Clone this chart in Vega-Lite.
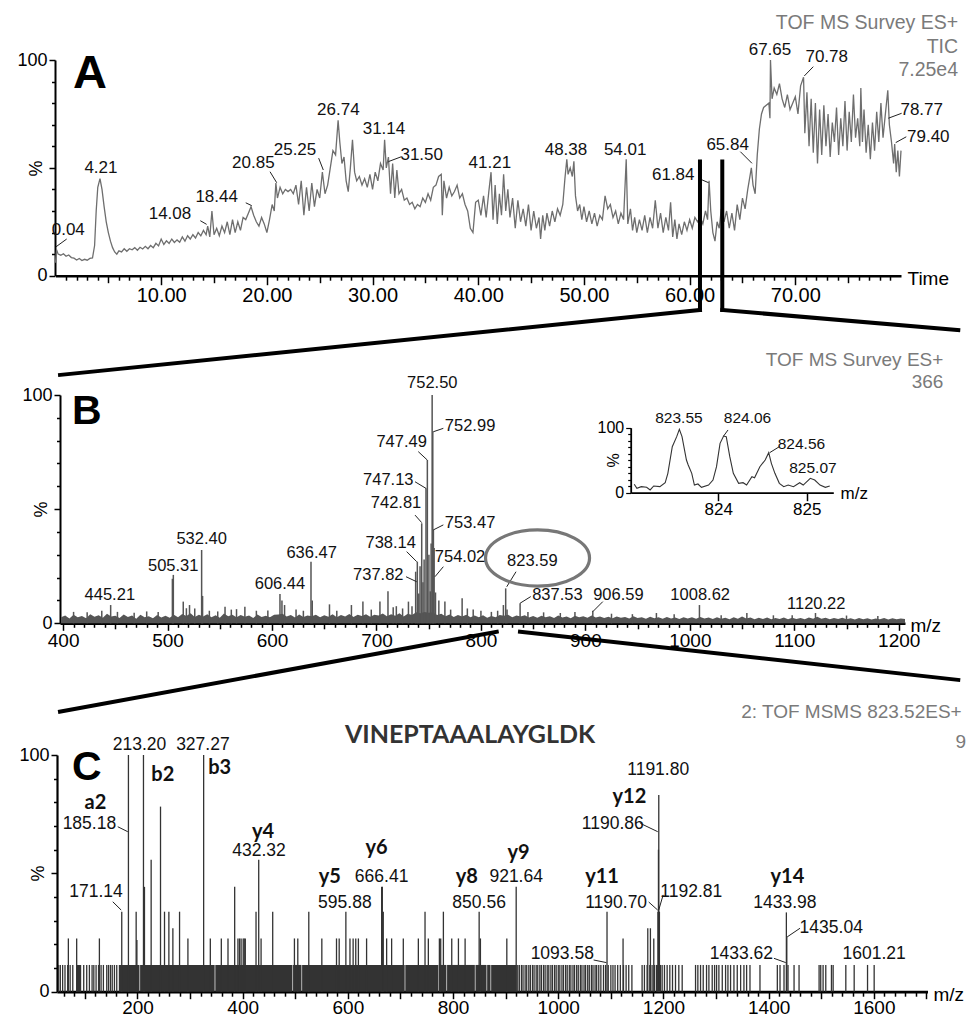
{
"$schema": "https://vega.github.io/schema/vega-lite/v6.json",
"width": 966, "height": 1020, "padding": 0, "autosize": {"type": "none"},
"background": "white",
"config": {"view": {"stroke": null}, "axis": {"grid": false, "domainColor": "#000", "tickColor": "#000", "labelColor": "#000", "titleColor": "#000", "labelFont": "Liberation Sans", "titleFont": "Liberation Sans", "titleFontWeight": "normal", "labelOverlap": false, "labelBound": false, "labelFlush": false}, "text": {"font": "Liberation Sans"}},
"datasets": {
"tic": [{"t":0,"v":6},{"t":0.1,"v":12},{"t":0.25,"v":10},{"t":0.5,"v":9.5},{"t":0.75,"v":10.2},{"t":1,"v":9},{"t":1.25,"v":9.6},{"t":1.5,"v":8.4},{"t":1.75,"v":8.1},{"t":2,"v":7.3},{"t":2.25,"v":8},{"t":2.5,"v":7},{"t":2.75,"v":7.6},{"t":3,"v":7.2},{"t":3.25,"v":8},{"t":3.5,"v":8.2},{"t":3.7,"v":14},{"t":3.85,"v":30},{"t":4,"v":41},{"t":4.21,"v":45},{"t":4.4,"v":40},{"t":4.6,"v":32},{"t":4.8,"v":25},{"t":5,"v":20},{"t":5.2,"v":16},{"t":5.4,"v":13},{"t":5.6,"v":11},{"t":5.8,"v":10},{"t":6,"v":11.5},{"t":6.25,"v":11},{"t":6.5,"v":12.5},{"t":6.75,"v":11.3},{"t":7,"v":12.5},{"t":7.25,"v":12},{"t":7.5,"v":13},{"t":7.75,"v":11.8},{"t":8,"v":13.2},{"t":8.25,"v":12.4},{"t":8.5,"v":13.6},{"t":8.75,"v":12.5},{"t":9,"v":14},{"t":9.25,"v":13},{"t":9.5,"v":15},{"t":9.75,"v":13.8},{"t":10,"v":17},{"t":10.25,"v":14.5},{"t":10.5,"v":16.2},{"t":10.75,"v":15},{"t":11,"v":17},{"t":11.25,"v":15.4},{"t":11.5,"v":16.6},{"t":11.75,"v":15.5},{"t":12,"v":18},{"t":12.25,"v":16},{"t":12.5,"v":18.5},{"t":12.75,"v":17},{"t":13,"v":19},{"t":13.25,"v":17.5},{"t":13.5,"v":20},{"t":13.75,"v":18.5},{"t":14,"v":21},{"t":14.25,"v":19},{"t":14.4,"v":23},{"t":14.6,"v":18},{"t":14.8,"v":30},{"t":15,"v":19},{"t":15.25,"v":22},{"t":15.5,"v":18.5},{"t":15.75,"v":23},{"t":16,"v":20},{"t":16.25,"v":25},{"t":16.5,"v":19},{"t":16.75,"v":26},{"t":17,"v":20},{"t":17.25,"v":25},{"t":17.5,"v":21},{"t":17.75,"v":27},{"t":18,"v":26},{"t":18.25,"v":29},{"t":18.5,"v":32},{"t":18.75,"v":28},{"t":19,"v":25},{"t":19.25,"v":23},{"t":19.5,"v":27},{"t":19.75,"v":24},{"t":20,"v":20},{"t":20.25,"v":26},{"t":20.5,"v":33},{"t":20.7,"v":30},{"t":20.85,"v":43},{"t":21,"v":36},{"t":21.25,"v":41},{"t":21.5,"v":38},{"t":21.75,"v":40},{"t":22,"v":39},{"t":22.25,"v":40},{"t":22.5,"v":38},{"t":22.75,"v":42},{"t":23,"v":33},{"t":23.25,"v":44},{"t":23.5,"v":28},{"t":23.75,"v":41},{"t":24,"v":30},{"t":24.25,"v":43},{"t":24.5,"v":32},{"t":24.75,"v":40},{"t":25,"v":36},{"t":25.25,"v":48},{"t":25.5,"v":38},{"t":25.75,"v":42},{"t":26,"v":50},{"t":26.25,"v":58},{"t":26.5,"v":56},{"t":26.74,"v":72},{"t":26.9,"v":62},{"t":27.1,"v":52},{"t":27.3,"v":55},{"t":27.5,"v":44},{"t":27.7,"v":39},{"t":27.9,"v":50},{"t":28.1,"v":63},{"t":28.3,"v":48},{"t":28.5,"v":44},{"t":28.75,"v":46},{"t":29,"v":42},{"t":29.25,"v":45},{"t":29.5,"v":41},{"t":29.75,"v":47},{"t":30,"v":40},{"t":30.25,"v":48},{"t":30.5,"v":44},{"t":30.75,"v":52},{"t":31,"v":49},{"t":31.14,"v":63},{"t":31.3,"v":50},{"t":31.5,"v":55},{"t":31.7,"v":38},{"t":31.9,"v":52},{"t":32.1,"v":36},{"t":32.3,"v":49},{"t":32.5,"v":38},{"t":32.75,"v":40},{"t":33,"v":35},{"t":33.25,"v":36},{"t":33.5,"v":33},{"t":33.75,"v":34},{"t":34,"v":31},{"t":34.25,"v":33},{"t":34.5,"v":32},{"t":34.75,"v":36},{"t":35,"v":34},{"t":35.25,"v":38},{"t":35.5,"v":35},{"t":35.75,"v":41},{"t":36,"v":42},{"t":36.25,"v":46},{"t":36.5,"v":47},{"t":36.6,"v":28},{"t":36.75,"v":44},{"t":37,"v":36},{"t":37.25,"v":41},{"t":37.5,"v":37},{"t":37.75,"v":39},{"t":38,"v":42},{"t":38.25,"v":36},{"t":38.5,"v":38},{"t":38.75,"v":33},{"t":39,"v":30},{"t":39.25,"v":22},{"t":39.5,"v":20},{"t":39.75,"v":34},{"t":40,"v":35},{"t":40.25,"v":28},{"t":40.5,"v":37},{"t":40.75,"v":27},{"t":41,"v":39},{"t":41.21,"v":48},{"t":41.4,"v":26},{"t":41.6,"v":42},{"t":41.8,"v":24},{"t":42,"v":38},{"t":42.2,"v":28},{"t":42.4,"v":47},{"t":42.6,"v":30},{"t":42.8,"v":40},{"t":43,"v":27},{"t":43.25,"v":36},{"t":43.5,"v":22},{"t":43.75,"v":35},{"t":44,"v":25},{"t":44.25,"v":31},{"t":44.5,"v":23},{"t":44.75,"v":33},{"t":45,"v":21},{"t":45.25,"v":30},{"t":45.5,"v":22},{"t":45.75,"v":27},{"t":45.9,"v":17},{"t":46.1,"v":28},{"t":46.3,"v":21},{"t":46.5,"v":29},{"t":46.75,"v":23},{"t":47,"v":30},{"t":47.25,"v":25},{"t":47.5,"v":31},{"t":47.75,"v":28},{"t":48,"v":33},{"t":48.2,"v":45},{"t":48.38,"v":54},{"t":48.5,"v":47},{"t":48.7,"v":50},{"t":48.9,"v":46},{"t":49.05,"v":53},{"t":49.2,"v":37},{"t":49.4,"v":30},{"t":49.6,"v":33},{"t":49.8,"v":26},{"t":50,"v":32},{"t":50.25,"v":25},{"t":50.5,"v":30},{"t":50.75,"v":24},{"t":51,"v":29},{"t":51.25,"v":23},{"t":51.5,"v":28},{"t":51.75,"v":26},{"t":52,"v":37},{"t":52.25,"v":31},{"t":52.5,"v":33},{"t":52.75,"v":27},{"t":53,"v":30},{"t":53.25,"v":24},{"t":53.5,"v":29},{"t":53.75,"v":26},{"t":54,"v":54},{"t":54.15,"v":24},{"t":54.4,"v":31},{"t":54.6,"v":21},{"t":54.8,"v":27},{"t":55,"v":20},{"t":55.25,"v":26},{"t":55.5,"v":21},{"t":55.75,"v":28},{"t":56,"v":20},{"t":56.25,"v":27},{"t":56.5,"v":22},{"t":56.75,"v":35},{"t":57,"v":22},{"t":57.25,"v":29},{"t":57.5,"v":20},{"t":57.75,"v":27},{"t":58,"v":21},{"t":58.2,"v":34},{"t":58.4,"v":18},{"t":58.6,"v":26},{"t":58.8,"v":17},{"t":59,"v":24},{"t":59.25,"v":19},{"t":59.5,"v":25},{"t":59.75,"v":21},{"t":60,"v":26},{"t":60.25,"v":22},{"t":60.5,"v":27},{"t":60.75,"v":25},{"t":61,"v":27},{"t":61.25,"v":24},{"t":61.5,"v":30},{"t":61.7,"v":26},{"t":61.84,"v":44},{"t":62,"v":30},{"t":62.2,"v":20},{"t":62.4,"v":16},{"t":62.6,"v":25},{"t":62.8,"v":22},{"t":63,"v":31},{"t":63.25,"v":25},{"t":63.5,"v":30},{"t":63.75,"v":22},{"t":64,"v":29},{"t":64.25,"v":21},{"t":64.5,"v":33},{"t":64.75,"v":26},{"t":65,"v":36},{"t":65.25,"v":31},{"t":65.5,"v":40},{"t":65.84,"v":50},{"t":66,"v":42},{"t":66.2,"v":38},{"t":66.4,"v":56},{"t":66.6,"v":68},{"t":66.8,"v":75},{"t":67,"v":78},{"t":67.25,"v":79},{"t":67.5,"v":80},{"t":67.6,"v":73},{"t":67.65,"v":100},{"t":67.8,"v":82},{"t":68,"v":87},{"t":68.25,"v":84},{"t":68.5,"v":89},{"t":68.75,"v":82},{"t":69,"v":78},{"t":69.25,"v":84},{"t":69.5,"v":77},{"t":69.75,"v":80},{"t":70,"v":83},{"t":70.25,"v":75},{"t":70.5,"v":88},{"t":70.78,"v":92},{"t":70.9,"v":66},{"t":71.1,"v":85},{"t":71.3,"v":60},{"t":71.5,"v":82},{"t":71.7,"v":57},{"t":71.9,"v":80},{"t":72.1,"v":52},{"t":72.3,"v":77},{"t":72.5,"v":56},{"t":72.7,"v":79},{"t":72.9,"v":60},{"t":73.1,"v":75},{"t":73.3,"v":55},{"t":73.5,"v":71},{"t":73.7,"v":62},{"t":73.9,"v":78},{"t":74.1,"v":56},{"t":74.3,"v":73},{"t":74.5,"v":60},{"t":74.7,"v":81},{"t":74.9,"v":58},{"t":75.1,"v":76},{"t":75.3,"v":62},{"t":75.5,"v":84},{"t":75.7,"v":64},{"t":75.9,"v":73},{"t":76.1,"v":60},{"t":76.2,"v":87},{"t":76.35,"v":62},{"t":76.5,"v":77},{"t":76.7,"v":57},{"t":76.9,"v":70},{"t":77.1,"v":54},{"t":77.3,"v":71},{"t":77.5,"v":58},{"t":77.7,"v":76},{"t":77.9,"v":62},{"t":78.1,"v":80},{"t":78.3,"v":64},{"t":78.5,"v":74},{"t":78.75,"v":86},{"t":78.9,"v":70},{"t":79.1,"v":62},{"t":79.3,"v":52},{"t":79.4,"v":61},{"t":79.55,"v":48},{"t":79.7,"v":58},{"t":79.85,"v":46},{"t":80,"v":58}],
"ticLab": [{"x":1.21,"y":21.2,"label":"0.04"},{"x":4.3,"y":49.8,"label":"4.21"},{"x":10.83,"y":28.6,"label":"14.08"},{"x":15.25,"y":36.6,"label":"18.44"},{"x":18.72,"y":52.1,"label":"20.85"},{"x":22.66,"y":58.3,"label":"25.25"},{"x":26.76,"y":76.8,"label":"26.74"},{"x":31.08,"y":67.9,"label":"31.14"},{"x":34.65,"y":56,"label":"31.50"},{"x":41.1,"y":52.4,"label":"41.21"},{"x":48.3,"y":58.3,"label":"48.38"},{"x":53.9,"y":58.3,"label":"54.01"},{"x":58.45,"y":46.7,"label":"61.84"},{"x":63.6,"y":60.6,"label":"65.84"},{"x":67.6,"y":104.6,"label":"67.65"},{"x":72.97,"y":101.5,"label":"70.78"},{"x":81.96,"y":76.8,"label":"78.77"},{"x":82.58,"y":64.4,"label":"79.40"}],
"ticLead": [{"x":1.06,"y":17,"x2":0.05,"y2":13.4},{"x":13.7,"y":25.5,"x2":14.3,"y2":23.8},{"x":18.0,"y":33.8,"x2":18.56,"y2":32.5},{"x":20.3,"y":48.2,"x2":20.93,"y2":43.1},{"x":24.9,"y":54.5,"x2":25.34,"y2":49},{"x":32.75,"y":55.2,"x2":31.5,"y2":52.9},{"x":60.8,"y":45.2,"x2":61.8,"y2":43.1},{"x":64.8,"y":57.5,"x2":65.9,"y2":52.1},{"x":71.7,"y":96.9,"x2":70.85,"y2":92.6},{"x":80.06,"y":75.3,"x2":78.8,"y2":73},{"x":80.5,"y":64.4,"x2":79.5,"y2":61.7}],
"zoomA": [{"x":60.98,"y":52.9,"x2":60.98,"y2":-15.9},{"x":63.09,"y":52.9,"x2":63.09,"y2":-15.9},{"x":60.98,"y":-15.9,"x2":0.43,"y2":-46},{"x":63.09,"y":-15.9,"x2":85.42,"y2":-25.2}],
"headA": [{"x":85.4,"y":117.3,"label":"TOF MS Survey ES+"},{"x":85.4,"y":105.9,"label":"TIC"},{"x":85.4,"y":95.4,"label":"7.25e4"}],
"letterA": [{"x":1.66,"y":87,"label":"A"}],
"msBand": [{"m":398,"v":2.6},{"m":402,"v":3.4},{"m":406,"v":2.1},{"m":410,"v":3.8},{"m":414,"v":2.7},{"m":418,"v":3.2},{"m":422,"v":2.2},{"m":426,"v":4.0},{"m":430,"v":2.9},{"m":434,"v":3.5},{"m":438,"v":2.4},{"m":442,"v":4.2},{"m":446,"v":3.0},{"m":450,"v":3.3},{"m":454,"v":2.3},{"m":458,"v":3.9},{"m":462,"v":2.8},{"m":466,"v":3.4},{"m":470,"v":2.0},{"m":474,"v":3.7},{"m":478,"v":2.6},{"m":482,"v":3.1},{"m":486,"v":2.2},{"m":490,"v":3.6},{"m":494,"v":2.5},{"m":498,"v":3.3},{"m":502,"v":2.4},{"m":506,"v":3.8},{"m":510,"v":2.7},{"m":514,"v":4.1},{"m":518,"v":3.2},{"m":522,"v":4.4},{"m":526,"v":2.8},{"m":530,"v":3.7},{"m":534,"v":3.0},{"m":538,"v":4.0},{"m":542,"v":2.6},{"m":546,"v":3.5},{"m":550,"v":2.4},{"m":554,"v":4.3},{"m":558,"v":3.1},{"m":562,"v":3.8},{"m":566,"v":2.7},{"m":570,"v":3.6},{"m":574,"v":2.9},{"m":578,"v":3.4},{"m":582,"v":2.3},{"m":586,"v":3.9},{"m":590,"v":2.8},{"m":594,"v":3.3},{"m":598,"v":2.6},{"m":602,"v":3.7},{"m":606,"v":3.9},{"m":610,"v":4.2},{"m":614,"v":3.0},{"m":618,"v":3.6},{"m":622,"v":2.5},{"m":626,"v":3.9},{"m":630,"v":2.8},{"m":634,"v":3.4},{"m":638,"v":3.1},{"m":642,"v":3.8},{"m":646,"v":2.6},{"m":650,"v":3.5},{"m":654,"v":2.9},{"m":658,"v":4.0},{"m":662,"v":2.7},{"m":666,"v":3.6},{"m":670,"v":3.0},{"m":674,"v":4.1},{"m":678,"v":2.8},{"m":682,"v":3.7},{"m":686,"v":3.2},{"m":690,"v":4.0},{"m":694,"v":2.9},{"m":698,"v":3.8},{"m":702,"v":3.4},{"m":706,"v":4.3},{"m":710,"v":3.1},{"m":714,"v":4.0},{"m":718,"v":3.3},{"m":722,"v":4.4},{"m":726,"v":3.0},{"m":730,"v":4.2},{"m":734,"v":3.6},{"m":738,"v":4.8},{"m":742,"v":4.4},{"m":746,"v":5.0},{"m":750,"v":4.6},{"m":754,"v":4.8},{"m":758,"v":3.6},{"m":762,"v":4.2},{"m":766,"v":3.1},{"m":770,"v":3.9},{"m":774,"v":2.8},{"m":778,"v":3.6},{"m":782,"v":3.0},{"m":786,"v":3.8},{"m":790,"v":2.7},{"m":794,"v":3.4},{"m":798,"v":2.6},{"m":802,"v":3.5},{"m":806,"v":2.4},{"m":810,"v":3.2},{"m":814,"v":2.7},{"m":818,"v":3.6},{"m":822,"v":3.3},{"m":826,"v":3.8},{"m":830,"v":2.6},{"m":834,"v":3.4},{"m":838,"v":3.0},{"m":842,"v":3.5},{"m":846,"v":2.5},{"m":850,"v":3.2},{"m":854,"v":2.4},{"m":858,"v":3.3},{"m":862,"v":2.6},{"m":866,"v":3.1},{"m":870,"v":2.3},{"m":874,"v":3.4},{"m":878,"v":2.5},{"m":882,"v":3.0},{"m":886,"v":2.2},{"m":890,"v":3.3},{"m":894,"v":2.6},{"m":898,"v":3.1},{"m":902,"v":2.4},{"m":906,"v":3.4},{"m":910,"v":2.5},{"m":914,"v":3.0},{"m":918,"v":2.3},{"m":922,"v":2.9},{"m":926,"v":2.2},{"m":930,"v":3.0},{"m":934,"v":2.4},{"m":938,"v":2.8},{"m":942,"v":2.1},{"m":946,"v":3.1},{"m":950,"v":2.3},{"m":954,"v":2.7},{"m":958,"v":2.0},{"m":962,"v":2.9},{"m":966,"v":2.2},{"m":970,"v":2.6},{"m":974,"v":2.0},{"m":978,"v":2.8},{"m":982,"v":2.1},{"m":986,"v":2.5},{"m":990,"v":1.9},{"m":994,"v":2.7},{"m":998,"v":2.1},{"m":1002,"v":2.6},{"m":1006,"v":2.0},{"m":1010,"v":2.8},{"m":1014,"v":2.1},{"m":1018,"v":2.5},{"m":1022,"v":1.9},{"m":1026,"v":2.6},{"m":1030,"v":2.0},{"m":1034,"v":2.4},{"m":1038,"v":1.8},{"m":1042,"v":2.6},{"m":1046,"v":2.0},{"m":1050,"v":3.0},{"m":1054,"v":2.1},{"m":1058,"v":2.5},{"m":1062,"v":1.8},{"m":1066,"v":2.4},{"m":1070,"v":1.9},{"m":1074,"v":2.5},{"m":1078,"v":1.8},{"m":1082,"v":2.3},{"m":1086,"v":1.9},{"m":1090,"v":2.5},{"m":1094,"v":1.8},{"m":1098,"v":2.4},{"m":1102,"v":1.9},{"m":1106,"v":2.3},{"m":1110,"v":1.8},{"m":1114,"v":2.5},{"m":1118,"v":2.0},{"m":1122,"v":2.9},{"m":1126,"v":2.0},{"m":1130,"v":2.4},{"m":1134,"v":1.8},{"m":1138,"v":2.3},{"m":1142,"v":1.9},{"m":1146,"v":2.4},{"m":1150,"v":1.8},{"m":1154,"v":2.2},{"m":1158,"v":1.7},{"m":1162,"v":2.3},{"m":1166,"v":1.8},{"m":1170,"v":2.2},{"m":1174,"v":1.7},{"m":1178,"v":2.1},{"m":1182,"v":1.8},{"m":1186,"v":2.3},{"m":1190,"v":1.7},{"m":1194,"v":2.2},{"m":1198,"v":1.8},{"m":1202,"v":2.1},{"m":1206,"v":1.9}],
"msSticks": [{"m":410,"v":5},{"m":423,"v":4.8},{"m":437,"v":5.5},{"m":445.5,"v":8},{"m":452,"v":5},{"m":468,"v":4.6},{"m":480,"v":5.2},{"m":491,"v":5},{"m":504.6,"v":19.5},{"m":505.5,"v":21.2},{"m":515,"v":9.5},{"m":518,"v":6.6},{"m":521,"v":8},{"m":526,"v":6.5},{"m":532.6,"v":32.1},{"m":533.5,"v":12},{"m":540,"v":5.5},{"m":548,"v":5.2},{"m":555,"v":7.3},{"m":561,"v":6},{"m":566,"v":6.2},{"m":574,"v":7.3},{"m":585,"v":5.5},{"m":596,"v":5.6},{"m":607.6,"v":12.8},{"m":609.5,"v":10},{"m":612,"v":8},{"m":623,"v":6},{"m":630,"v":5.5},{"m":637.3,"v":27},{"m":638.5,"v":10},{"m":655,"v":8.3},{"m":662,"v":5.5},{"m":676,"v":8},{"m":687,"v":9.5},{"m":695,"v":6},{"m":703.3,"v":9.5},{"m":711,"v":14},{"m":716,"v":7},{"m":719,"v":7.5},{"m":725,"v":6.5},{"m":730.6,"v":9.5},{"m":734,"v":7.5},{"m":737.5,"v":22.6},{"m":739.1,"v":27},{"m":740.5,"v":13},{"m":741.7,"v":25},{"m":743.3,"v":43.8},{"m":744.5,"v":18},{"m":745.6,"v":28},{"m":747.4,"v":59.1},{"m":748.7,"v":71.5},{"m":750.2,"v":30},{"m":751.5,"v":14},{"m":752.3,"v":35},{"m":753.3,"v":100},{"m":753.9,"v":84},{"m":754.5,"v":41},{"m":755.2,"v":33},{"m":756.5,"v":13.5},{"m":759.7,"v":10},{"m":765.5,"v":9.5},{"m":771,"v":6},{"m":782,"v":11},{"m":787,"v":6.5},{"m":792.6,"v":6},{"m":800,"v":5.5},{"m":810,"v":5},{"m":816,"v":5.5},{"m":821.5,"v":8},{"m":823.7,"v":15.3},{"m":825,"v":6},{"m":837.5,"v":8.8},{"m":845,"v":5},{"m":860,"v":4.8},{"m":876,"v":4.5},{"m":890,"v":5},{"m":907.1,"v":5.5},{"m":925,"v":4.2},{"m":945,"v":4},{"m":968,"v":4.5},{"m":985,"v":4},{"m":1009.2,"v":8},{"m":1030,"v":3.5},{"m":1054.6,"v":4.5},{"m":1080,"v":3.5},{"m":1098,"v":3.5},{"m":1120.3,"v":4.5},{"m":1150,"v":3.4},{"m":1180,"v":3.2}],
"msLab": [{"x":444.7,"y":12.4,"label":"445.21"},{"x":505.4,"y":25.2,"label":"505.31"},{"x":532.6,"y":36.8,"label":"532.40"},{"x":607.6,"y":17.1,"label":"606.44"},{"x":637.9,"y":30.7,"label":"636.47"},{"x":753.4,"y":105.1,"label":"752.50"},{"x":789.6,"y":86.4,"label":"752.99"},{"x":724.1,"y":79.5,"label":"747.49"},{"x":711.3,"y":62.8,"label":"747.13"},{"x":718.7,"y":52.6,"label":"742.81"},{"x":789.6,"y":43.8,"label":"753.47"},{"x":713.6,"y":35.3,"label":"738.14"},{"x":780,"y":29.2,"label":"754.02"},{"x":701.7,"y":21.2,"label":"737.82"},{"x":849.2,"y":27.3,"label":"823.59"},{"x":873.2,"y":12.4,"label":"837.53"},{"x":931.6,"y":12.4,"label":"906.59"},{"x":1009.9,"y":12.4,"label":"1008.62"},{"x":1121,"y":8.5,"label":"1120.22"}],
"msLead": [{"x":754.4,"y":83.9,"x2":764,"y2":85.4},{"x":740,"y":75.2,"x2":748.7,"y2":71.5},{"x":736.9,"y":62,"x2":747.4,"y2":59.1},{"x":736.9,"y":47.4,"x2":743.3,"y2":44.1},{"x":754.4,"y":40.9,"x2":764,"y2":43.1},{"x":728.9,"y":31.4,"x2":738.5,"y2":27},{"x":756,"y":20.4,"x2":764,"y2":24.8},{"x":728.3,"y":20.4,"x2":738.5,"y2":18.2},{"x":824.7,"y":16,"x2":833.6,"y2":22.6},{"x":837.5,"y":8.8,"x2":847.7,"y2":11.7},{"x":907.1,"y":5.1,"x2":916.7,"y2":9.5}],
"zoomB": [{"x":815.1,"y":-3.7,"x2":397,"y2":-38.7},{"x":837.4,"y":-3.7,"x2":1257,"y2":-24.8}],
"headB": [{"x":1242.7,"y":115.3,"label":"TOF MS Survey ES+"},{"x":1242.7,"y":105.8,"label":"366"}],
"letterB": [{"x":408.5,"y":87.3,"label":"B"}],
"circle": [{"x":854.2,"y":28.6}],
"iso": [{"m":823.05,"v":12.9},{"m":823.08,"v":6.7},{"m":823.13,"v":9.3},{"m":823.19,"v":8.3},{"m":823.23,"v":4.2},{"m":823.27,"v":10.3},{"m":823.34,"v":9.3},{"m":823.4,"v":15.4},{"m":823.43,"v":29.8},{"m":823.48,"v":70.8},{"m":823.53,"v":86.2},{"m":823.56,"v":97.5},{"m":823.59,"v":86.2},{"m":823.64,"v":50.3},{"m":823.66,"v":42.6},{"m":823.7,"v":29.8},{"m":823.73,"v":11.8},{"m":823.77,"v":13.4},{"m":823.81,"v":8.3},{"m":823.89,"v":11.8},{"m":823.94,"v":19.5},{"m":823.98,"v":40},{"m":824.02,"v":75.9},{"m":824.06,"v":87.2},{"m":824.09,"v":86.2},{"m":824.13,"v":55.4},{"m":824.17,"v":29.8},{"m":824.23,"v":14.4},{"m":824.28,"v":15.4},{"m":824.32,"v":11.8},{"m":824.38,"v":24.7},{"m":824.41,"v":23.1},{"m":824.47,"v":40},{"m":824.53,"v":50.3},{"m":824.57,"v":61.6},{"m":824.6,"v":45.2},{"m":824.64,"v":29.8},{"m":824.69,"v":14.4},{"m":824.74,"v":9.3},{"m":824.79,"v":11.8},{"m":824.85,"v":9.3},{"m":824.92,"v":15.4},{"m":824.96,"v":11.8},{"m":825.04,"v":22.1},{"m":825.09,"v":19.5},{"m":825.15,"v":11.8},{"m":825.21,"v":8.3},{"m":825.26,"v":10.3}],
"isoLab": [{"x":823.555,"y":114.4,"label":"823.55"},{"x":824.33,"y":114.4,"label":"824.06"},{"x":824.94,"y":74.4,"label":"824.56"},{"x":825.07,"y":37.5,"label":"825.07"}],
"isoLead": [{"x":824.06,"y":87.2,"x2":824.11,"y2":96.5},{"x":824.58,"y":61.5,"x2":824.69,"y2":70.8}],
"band": [{"m0":84,"m1":93,"v":11.3},{"m0":164.5,"m1":203.8,"v":11.3},{"m0":205,"m1":346.7,"v":11.3},{"m0":348,"m1":494.6,"v":11.3},{"m0":495.8,"m1":511.8,"v":11.3},{"m0":513,"m1":708,"v":11.3},{"m0":709.2,"m1":771.5,"v":11.3},{"m0":772.7,"m1":787.4,"v":11.3},{"m0":788.6,"m1":841.4,"v":11.3},{"m0":842.6,"m1":863.6,"v":11.3},{"m0":864.8,"m1":871.2,"v":11.3},{"m0":872.4,"m1":921,"v":11.3}],
"sticks": [{"m":50,"v":11.3},{"m":53.3,"v":11.3},{"m":57.7,"v":11.3},{"m":62.2,"v":11.3},{"m":67.3,"v":11.3},{"m":72,"v":11.3},{"m":77,"v":11.3},{"m":97.8,"v":11.3},{"m":103.5,"v":11.3},{"m":108.6,"v":11.3},{"m":113.7,"v":11.3},{"m":117,"v":11.3},{"m":121.3,"v":11.3},{"m":126,"v":11.3},{"m":130.8,"v":11.3},{"m":135.2,"v":11.3},{"m":141.6,"v":11.3},{"m":145,"v":11.3},{"m":148.6,"v":11.3},{"m":152,"v":11.3},{"m":156.2,"v":11.3},{"m":160.6,"v":11.3},
{"m":923,"v":11.3},{"m":926,"v":11.3},{"m":930,"v":11.3},{"m":933,"v":11.3},{"m":937,"v":11.3},{"m":940,"v":11.3},{"m":944,"v":11.3},{"m":947,"v":11.3},{"m":951,"v":11.3},{"m":954,"v":11.3},{"m":958,"v":11.3},{"m":961,"v":11.3},{"m":965,"v":11.3},{"m":968,"v":11.3},{"m":972,"v":11.3},{"m":975,"v":11.3},{"m":979,"v":11.3},{"m":982,"v":11.3},{"m":986,"v":11.3},{"m":989,"v":11.3},{"m":993,"v":11.3},{"m":996,"v":11.3},{"m":1000,"v":11.3},{"m":1003,"v":11.3},{"m":1007,"v":11.3},{"m":1010,"v":11.3},{"m":1014,"v":11.3},{"m":1017,"v":11.3},{"m":1021,"v":11.3},{"m":1024,"v":11.3},{"m":1028,"v":11.3},{"m":1031,"v":11.3},{"m":1035,"v":11.3},{"m":1038,"v":11.3},{"m":1042,"v":11.3},{"m":1045,"v":11.3},{"m":1049,"v":11.3},{"m":1052,"v":11.3},{"m":1056,"v":11.3},{"m":1059,"v":11.3},{"m":1063,"v":11.3},{"m":1066,"v":11.3},{"m":1070,"v":11.3},{"m":1073,"v":11.3},{"m":1077,"v":11.3},{"m":1081,"v":11.3},{"m":1086,"v":11.3},{"m":1090,"v":11.3},{"m":1095,"v":11.3},{"m":1100,"v":11.3},{"m":1104,"v":11.3},{"m":1108,"v":11.3},{"m":1113,"v":11.3},{"m":1118,"v":11.3},{"m":1124,"v":11.3},{"m":1129,"v":11.3},{"m":1134,"v":11.3},{"m":1140,"v":11.3},
{"m":1159.4,"v":11.3},{"m":1163.8,"v":11.3},{"m":1168.9,"v":11.3},{"m":1174,"v":11.3},{"m":1178.4,"v":11.3},{"m":1182.9,"v":11.3},{"m":1186.7,"v":11.3},{"m":1189.2,"v":11.3},{"m":1192.5,"v":11.3},{"m":1194.3,"v":11.3},{"m":1197.5,"v":11.3},{"m":1201.9,"v":11.3},{"m":1207,"v":11.3},{"m":1212.1,"v":11.3},{"m":1217.2,"v":11.3},{"m":1222.9,"v":11.3},{"m":1229.2,"v":11.3},{"m":1235.6,"v":11.3},{"m":1261,"v":11.3},{"m":1265.4,"v":11.3},{"m":1270.5,"v":11.3},{"m":1275.6,"v":11.3},{"m":1281.9,"v":11.3},{"m":1286.4,"v":11.3},{"m":1292.7,"v":11.3},{"m":1297.2,"v":11.3},{"m":1301,"v":11.3},{"m":1305.4,"v":11.3},{"m":1311.8,"v":11.3},{"m":1318.1,"v":11.3},{"m":1322.6,"v":11.3},{"m":1327.6,"v":11.3},{"m":1334,"v":11.3},{"m":1340.3,"v":11.3},{"m":1346.7,"v":11.3},{"m":1353,"v":11.3},{"m":1358.1,"v":11.3},{"m":1364.5,"v":11.3},{"m":1383.5,"v":11.3},{"m":1416.5,"v":11.3},{"m":1421.6,"v":11.3},{"m":1429.2,"v":11.3},{"m":1436.8,"v":11.3},{"m":1448.3,"v":11.3},{"m":1457.8,"v":11.3},{"m":1495.9,"v":11.3},{"m":1499,"v":11.3},{"m":1503.5,"v":11.3},{"m":1508.6,"v":11.3},{"m":1519.4,"v":11.3},{"m":1522.6,"v":11.3},{"m":1546.7,"v":11.3},{"m":1562.6,"v":11.3},{"m":1588,"v":11.3},{"m":1600.6,"v":11.3},
{"m":68.6,"v":22.5},{"m":84.4,"v":22.5},{"m":127.6,"v":22.5},{"m":170.1,"v":33.8},{"m":182.8,"v":100},{"m":197.5,"v":33.8},{"m":198.9,"v":21.8},{"m":211.4,"v":100},{"m":213.3,"v":44.3},{"m":226,"v":55.7},{"m":243.8,"v":78.2},{"m":251.4,"v":33.8},{"m":259.7,"v":33.8},{"m":267.3,"v":26.8},{"m":280,"v":33.8},{"m":295.9,"v":22.5},{"m":325.8,"v":100},{"m":338.5,"v":22.5},{"m":359.4,"v":22.5},{"m":372.1,"v":22.5},{"m":384.8,"v":44.3},{"m":391,"v":22.5},{"m":394,"v":22.5},{"m":397,"v":22.5},{"m":401,"v":22.5},{"m":403,"v":22.5},{"m":405,"v":22.5},{"m":425.4,"v":33.8},{"m":430.5,"v":55.7},{"m":435,"v":22.5},{"m":457.1,"v":33.8},{"m":498.4,"v":22.5},{"m":504.8,"v":22.5},{"m":525.7,"v":33.8},{"m":550.5,"v":22.5},{"m":578.4,"v":22.5},{"m":583.5,"v":22.5},{"m":596.2,"v":33.8},{"m":604,"v":22.5},{"m":610,"v":22.5},{"m":615,"v":22.5},{"m":620,"v":22.5},{"m":635.6,"v":22.5},{"m":664.2,"v":44.3},{"m":665.5,"v":44.3},{"m":667.3,"v":33.8},{"m":673.7,"v":22.5},{"m":683.2,"v":22.5},{"m":705.4,"v":22.5},{"m":734,"v":22.5},{"m":746.7,"v":33.8},{"m":753,"v":22.5},{"m":774,"v":22.5},{"m":776.5,"v":22.5},{"m":781.6,"v":33.8},{"m":797.5,"v":22.5},{"m":810.2,"v":22.5},{"m":822.9,"v":22.5},{"m":849.6,"v":33.8},{"m":852,"v":22.5},{"m":902.2,"v":22.5},{"m":920,"v":44.3},{"m":1092.7,"v":33.8},{"m":1123.2,"v":22.5},{"m":1170.2,"v":26.8},{"m":1175.2,"v":26.8},{"m":1181.6,"v":22.5},{"m":1189.5,"v":33.8},{"m":1190.5,"v":60},{"m":1191.1,"v":83.1},{"m":1192.3,"v":33.8},{"m":1433.7,"v":33.5},{"m":1434.5,"v":23.5}],
"cLab": [{"x":203.8,"y":104.2,"label":"213.20"},{"x":324.4,"y":104.2,"label":"327.27"},{"x":108.6,"y":70.8,"label":"185.18"},{"x":121.3,"y":42.2,"label":"171.14"},{"x":431,"y":59.6,"label":"432.32"},{"x":594.3,"y":37.6,"label":"595.88"},{"x":664.2,"y":48.6,"label":"666.41"},{"x":849.5,"y":37.6,"label":"850.56"},{"x":920,"y":48.6,"label":"921.64"},{"x":1110,"y":37.6,"label":"1190.70"},{"x":1007.6,"y":15.9,"label":"1093.58"},{"x":1103.8,"y":70.8,"label":"1190.86"},{"x":1190,"y":93.7,"label":"1191.80"},{"x":1253,"y":42.2,"label":"1192.81"},{"x":1430.8,"y":37.6,"label":"1433.98"},{"x":1519,"y":26.8,"label":"1435.04"},{"x":1348.2,"y":15.9,"label":"1433.62"},{"x":1600.6,"y":15.9,"label":"1601.21"}],
"cFrag": [{"x":120,"y":79.6,"label":"a2"},{"x":248.2,"y":91.5,"label":"b2"},{"x":356.2,"y":94.5,"label":"b3"},{"x":438.7,"y":67.6,"label":"y4"},{"x":565.7,"y":48.6,"label":"y5"},{"x":654.7,"y":60.8,"label":"y6"},{"x":826.1,"y":48.6,"label":"y8"},{"x":924.4,"y":58.5,"label":"y9"},{"x":1083.2,"y":48.6,"label":"y11"},{"x":1135.2,"y":82.4,"label":"y12"},{"x":1435.6,"y":48.6,"label":"y14"}],
"cLead": [{"x":162.5,"y":69.7,"x2":181.5,"y2":67.6},{"x":153,"y":38,"x2":169,"y2":34.5},{"x":1067.2,"y":13.4,"x2":1091.4,"y2":12.3},{"x":1171.9,"y":37.9,"x2":1189,"y2":34.5},{"x":1156.2,"y":71.1,"x2":1189.1,"y2":67.6},{"x":1191,"y":34.5,"x2":1199.4,"y2":40.9},{"x":1435.6,"y":23.2,"x2":1459.6,"y2":26.8},{"x":1410.1,"y":14.1,"x2":1432.4,"y2":12.3}],
"headC": [{"x":1767,"y":118.3,"label":"2: TOF MSMS 823.52ES+"}],
"headC2": [{"x":1755,"y":105.6,"label":"9"}],
"seqC": [{"x":832.2,"y":108.5,"label":"VINEPTAAALAYGLDK"}],
"letterC": [{"x":75.5,"y":89.4,"label":"C"}]
},
"layer": [
{"resolve": {"axis": {"x": "independent", "y": "independent"}},
 "layer": [
 {"data": {"name": "tic"}, "mark": {"type": "line", "color": "#6e6e6e", "strokeWidth": 1.3},
  "encoding": {"x": {"field": "t", "type": "quantitative", "scale": {"domain": [0, 80], "range": [55.5, 901], "nice": false, "zero": false},
   "axis": {"orient": "bottom", "offset": -744.3, "values": [10,20,30,40,50,60,70], "format": ".2f", "tickSize": 9, "tickWidth": 1.5, "domainWidth": 2.5, "labelFontSize": 20, "labelPadding": 1,
    "title": "Time", "titleX": 907, "titleY": 3, "titleAlign": "left", "titleBaseline": "middle", "titleAngle": 0, "titleFontSize": 19}},
   "y": {"field": "v", "type": "quantitative", "scale": {"domain": [0, 100], "range": [275.7, 60], "nice": false, "zero": false},
   "axis": {"orient": "left", "offset": -55, "values": [0, 100], "tickSize": 6, "tickWidth": 1.5, "domainWidth": 2, "labelFontSize": 18, "labelPadding": 2,
    "title": "%", "titleX": -19, "titleY": 168, "titleAngle": -90, "titleAlign": "center", "titleBaseline": "middle", "titleFontSize": 18}}}},
 {"data": {"name": "ticLead"}, "mark": {"type": "rule", "color": "#222", "strokeWidth": 1},
  "encoding": {"x": {"field": "x", "type": "quantitative", "scale": {"domain": [0, 80], "range": [55.5, 901], "nice": false, "zero": false},
    "axis": {"orient": "bottom", "offset": -744.3, "values": [1,2,3,4,6,7,8,9,11,12,13,14,16,17,18,19,21,22,23,24,26,27,28,29,31,32,33,34,36,37,38,39,41,42,43,44,46,47,48,49,51,52,53,54,56,57,58,59,61,62,63,64,66,67,68,69,71,72,73,74,76,77,78,79], "labels": false, "domain": false, "tickSize": 4.5, "tickWidth": 1.5, "title": null}},
   "y": {"field": "y", "type": "quantitative", "scale": {"domain": [0, 100], "range": [275.7, 60], "nice": false, "zero": false},
    "axis": {"orient": "left", "offset": -55, "values": [10,20,30,40,60,70,80,90], "labels": false, "domain": false, "tickSize": 3.5, "tickWidth": 1.5, "title": null}},
   "x2": {"field": "x2"}, "y2": {"field": "y2"}}},
 {"data": {"name": "zoomA"}, "mark": {"type": "rule", "color": "#000", "strokeWidth": 4, "strokeCap": "square"},
  "encoding": {"x": {"field": "x", "type": "quantitative", "scale": {"domain": [0, 80], "range": [55.5, 901], "nice": false, "zero": false},
    "axis": {"orient": "bottom", "offset": -744.3, "values": [5,15,25,35,45,55,65,75], "labels": false, "domain": false, "tickSize": 7, "tickWidth": 1.5, "title": null}},
   "y": {"field": "y", "type": "quantitative", "scale": {"domain": [0, 100], "range": [275.7, 60], "nice": false, "zero": false},
    "axis": {"orient": "left", "offset": -55, "values": [50], "labels": false, "domain": false, "tickSize": 6, "tickWidth": 1.5, "title": null}},
   "x2": {"field": "x2"}, "y2": {"field": "y2"}}},
 {"data": {"name": "ticLab"}, "mark": {"type": "text", "fontSize": 17, "color": "#111", "align": "center", "baseline": "middle"},
  "encoding": {"x": {"field": "x", "type": "quantitative", "scale": {"domain": [0, 80], "range": [55.5, 901], "nice": false, "zero": false}, "axis": null},
   "y": {"field": "y", "type": "quantitative", "scale": {"domain": [0, 100], "range": [275.7, 60], "nice": false, "zero": false}, "axis": null},
   "text": {"field": "label", "type": "nominal"}}},
 {"data": {"name": "headA"}, "mark": {"type": "text", "fontSize": 19.5, "color": "#7a7a7a", "align": "right", "baseline": "middle"},
  "encoding": {"x": {"field": "x", "type": "quantitative", "scale": {"domain": [0, 80], "range": [55.5, 901], "nice": false, "zero": false}, "axis": null},
   "y": {"field": "y", "type": "quantitative", "scale": {"domain": [0, 100], "range": [275.7, 60], "nice": false, "zero": false}, "axis": null},
   "text": {"field": "label", "type": "nominal"}}},
 {"data": {"name": "letterA"}, "mark": {"type": "text", "fontSize": 47, "fontWeight": "bold", "color": "#000", "align": "left", "baseline": "alphabetic"},
  "encoding": {"x": {"field": "x", "type": "quantitative", "scale": {"domain": [0, 80], "range": [55.5, 901], "nice": false, "zero": false}, "axis": null},
   "y": {"field": "y", "type": "quantitative", "scale": {"domain": [0, 100], "range": [275.7, 60], "nice": false, "zero": false}, "axis": null},
   "text": {"field": "label", "type": "nominal"}}}
]},
{"resolve": {"axis": {"x": "independent", "y": "independent"}},
 "layer": [
 {"data": {"name": "msBand"}, "mark": {"type": "area", "color": "#555"},
  "encoding": {"x": {"field": "m", "type": "quantitative", "scale": {"domain": [397, 1206], "range": [60, 905], "nice": false, "zero": false},
   "axis": {"orient": "bottom", "offset": -396.7, "values": [400,500,600,700,800,900,1000,1100,1200], "format": "d", "tickSize": 7, "tickWidth": 1.5, "domainWidth": 2.5, "labelFontSize": 19, "labelPadding": 1,
    "title": "m/z", "titleX": 910, "titleY": 2, "titleAlign": "left", "titleBaseline": "middle", "titleAngle": 0, "titleFontSize": 19}},
   "y": {"field": "v", "type": "quantitative", "stack": null, "scale": {"domain": [0, 100], "range": [623.3, 395], "nice": false, "zero": false},
   "axis": {"orient": "left", "offset": -60, "values": [0, 100], "tickSize": 6, "tickWidth": 1.5, "domainWidth": 2, "labelFontSize": 18, "labelPadding": 2,
    "title": "%", "titleX": -19, "titleY": 509, "titleAngle": -90, "titleAlign": "center", "titleBaseline": "middle", "titleFontSize": 18}},
   "y2": {"datum": 0}}},
 {"data": {"name": "msSticks"}, "mark": {"type": "rule", "color": "#555", "strokeWidth": 1.5},
  "encoding": {"x": {"field": "m", "type": "quantitative", "scale": {"domain": [397, 1206], "range": [60, 905], "nice": false, "zero": false},
    "axis": {"orient": "bottom", "offset": -396.7, "values": [410,420,430,440,460,470,480,490,510,520,530,540,560,570,580,590,610,620,630,640,660,670,680,690,710,720,730,740,760,770,780,790,810,820,830,840,860,870,880,890,910,920,930,940,960,970,980,990,1010,1020,1030,1040,1060,1070,1080,1090,1110,1120,1130,1140,1160,1170,1180,1190], "labels": false, "domain": false, "tickSize": 4, "tickWidth": 1.5, "title": null}},
   "y": {"field": "v", "type": "quantitative", "scale": {"domain": [0, 100], "range": [623.3, 395], "nice": false, "zero": false},
    "axis": {"orient": "left", "offset": -60, "values": [10,20,30,40,60,70,80,90], "labels": false, "domain": false, "tickSize": 3.5, "tickWidth": 1.5, "title": null}},
   "y2": {"datum": 0}}},
 {"data": {"name": "msLead"}, "mark": {"type": "rule", "color": "#222", "strokeWidth": 1},
  "encoding": {"x": {"field": "x", "type": "quantitative", "scale": {"domain": [397, 1206], "range": [60, 905], "nice": false, "zero": false},
    "axis": {"orient": "bottom", "offset": -396.7, "values": [450,550,650,750,850,950,1050,1150], "labels": false, "domain": false, "tickSize": 5.5, "tickWidth": 1.5, "title": null}},
   "y": {"field": "y", "type": "quantitative", "scale": {"domain": [0, 100], "range": [623.3, 395], "nice": false, "zero": false},
    "axis": {"orient": "left", "offset": -60, "values": [50], "labels": false, "domain": false, "tickSize": 6, "tickWidth": 1.5, "title": null}},
   "x2": {"field": "x2"}, "y2": {"field": "y2"}}},
 {"data": {"name": "zoomB"}, "mark": {"type": "rule", "color": "#000", "strokeWidth": 4, "strokeCap": "square"},
  "encoding": {"x": {"field": "x", "type": "quantitative", "scale": {"domain": [397, 1206], "range": [60, 905], "nice": false, "zero": false}, "axis": null},
   "y": {"field": "y", "type": "quantitative", "scale": {"domain": [0, 100], "range": [623.3, 395], "nice": false, "zero": false}, "axis": null},
   "x2": {"field": "x2"}, "y2": {"field": "y2"}}},
 {"data": {"name": "circle"}, "mark": {"type": "point", "shape": "M -1 0 C -1 -0.298 -0.552 -0.54 0 -0.54 C 0.552 -0.54 1 -0.298 1 0 C 1 0.298 0.552 0.54 0 0.54 C -0.552 0.54 -1 0.298 -1 0 Z", "size": 10816, "filled": false, "stroke": "#777", "strokeWidth": 3.2, "opacity": 1},
  "encoding": {"x": {"field": "x", "type": "quantitative", "scale": {"domain": [397, 1206], "range": [60, 905], "nice": false, "zero": false}, "axis": null},
   "y": {"field": "y", "type": "quantitative", "scale": {"domain": [0, 100], "range": [623.3, 395], "nice": false, "zero": false}, "axis": null}}},
 {"data": {"name": "msLab"}, "mark": {"type": "text", "fontSize": 16.5, "color": "#111", "align": "center", "baseline": "middle"},
  "encoding": {"x": {"field": "x", "type": "quantitative", "scale": {"domain": [397, 1206], "range": [60, 905], "nice": false, "zero": false}, "axis": null},
   "y": {"field": "y", "type": "quantitative", "scale": {"domain": [0, 100], "range": [623.3, 395], "nice": false, "zero": false}, "axis": null},
   "text": {"field": "label", "type": "nominal"}}},
 {"data": {"name": "headB"}, "mark": {"type": "text", "fontSize": 19, "color": "#7a7a7a", "align": "right", "baseline": "middle"},
  "encoding": {"x": {"field": "x", "type": "quantitative", "scale": {"domain": [397, 1206], "range": [60, 905], "nice": false, "zero": false}, "axis": null},
   "y": {"field": "y", "type": "quantitative", "scale": {"domain": [0, 100], "range": [623.3, 395], "nice": false, "zero": false}, "axis": null},
   "text": {"field": "label", "type": "nominal"}}},
 {"data": {"name": "letterB"}, "mark": {"type": "text", "fontSize": 41, "fontWeight": "bold", "color": "#000", "align": "left", "baseline": "alphabetic"},
  "encoding": {"x": {"field": "x", "type": "quantitative", "scale": {"domain": [397, 1206], "range": [60, 905], "nice": false, "zero": false}, "axis": null},
   "y": {"field": "y", "type": "quantitative", "scale": {"domain": [0, 100], "range": [623.3, 395], "nice": false, "zero": false}, "axis": null},
   "text": {"field": "label", "type": "nominal"}}}
]},
{"resolve": {"axis": {"x": "independent", "y": "independent"}},
 "layer": [
 {"data": {"name": "iso"}, "mark": {"type": "line", "color": "#333", "strokeWidth": 1.1},
  "encoding": {"x": {"field": "m", "type": "quantitative", "scale": {"domain": [823.01, 825.3], "range": [630.7, 833.3], "nice": false, "zero": false},
   "axis": {"orient": "bottom", "offset": -527.3, "values": [824, 825], "format": "d", "tickSize": 8, "tickWidth": 1.5, "domainWidth": 1.8, "labelFontSize": 17, "labelPadding": 1,
    "title": "m/z", "titleX": 840, "titleY": 1, "titleAlign": "left", "titleBaseline": "middle", "titleAngle": 0, "titleFontSize": 17}},
   "y": {"field": "v", "type": "quantitative", "scale": {"domain": [0, 100], "range": [492.7, 427.7], "nice": false, "zero": false},
   "axis": {"orient": "left", "offset": -630.7, "values": [0, 100], "tickSize": 5, "tickWidth": 1.2, "domainWidth": 1.8, "labelFontSize": 16, "labelPadding": 2,
    "title": "%", "titleX": -17.5, "titleY": 460, "titleAngle": -90, "titleAlign": "center", "titleBaseline": "middle", "titleFontSize": 16}}}},
 {"data": {"name": "isoLead"}, "mark": {"type": "rule", "color": "#222", "strokeWidth": 1},
  "encoding": {"x": {"field": "x", "type": "quantitative", "scale": {"domain": [823.01, 825.3], "range": [630.7, 833.3], "nice": false, "zero": false}, "axis": null},
   "y": {"field": "y", "type": "quantitative", "scale": {"domain": [0, 100], "range": [492.7, 427.7], "nice": false, "zero": false},
    "axis": {"orient": "left", "offset": -630.7, "values": [10,20,30,40,50,60,70,80,90], "labels": false, "domain": false, "tickSize": 3, "tickWidth": 1.2, "title": null}},
   "x2": {"field": "x2"}, "y2": {"field": "y2"}}},
 {"data": {"name": "isoLab"}, "mark": {"type": "text", "fontSize": 15.5, "color": "#111", "align": "center", "baseline": "middle"},
  "encoding": {"x": {"field": "x", "type": "quantitative", "scale": {"domain": [823.01, 825.3], "range": [630.7, 833.3], "nice": false, "zero": false}, "axis": null},
   "y": {"field": "y", "type": "quantitative", "scale": {"domain": [0, 100], "range": [492.7, 427.7], "nice": false, "zero": false}, "axis": null},
   "text": {"field": "label", "type": "nominal"}}}
]},
{"resolve": {"axis": {"x": "independent", "y": "independent"}},
 "layer": [
 {"data": {"name": "band"}, "mark": {"type": "rect", "color": "#333"},
  "encoding": {"x": {"field": "m0", "type": "quantitative", "scale": {"domain": [47, 1702], "range": [57, 927.5], "nice": false, "zero": false},
   "axis": {"orient": "bottom", "offset": -28.3, "values": [200,400,600,800,1000,1200,1400,1600], "format": "d", "tickSize": 7, "tickWidth": 1.5, "domainWidth": 2.8, "labelFontSize": 19, "labelPadding": 0,
    "title": "m/z", "titleX": 933, "titleY": 3, "titleAlign": "left", "titleBaseline": "middle", "titleAngle": 0, "titleFontSize": 19}},
   "x2": {"field": "m1"},
   "y": {"field": "v", "type": "quantitative", "scale": {"domain": [0, 100], "range": [991.7, 755], "nice": false, "zero": false},
   "axis": {"orient": "left", "offset": -57, "values": [0, 100], "tickSize": 6, "tickWidth": 1.5, "domainWidth": 2.2, "labelFontSize": 18, "labelPadding": 2,
    "title": "%", "titleX": -19, "titleY": 873, "titleAngle": -90, "titleAlign": "center", "titleBaseline": "middle", "titleFontSize": 18}},
   "y2": {"datum": 0}}},
 {"data": {"name": "sticks"}, "mark": {"type": "rule", "color": "#333", "strokeWidth": 1.3},
  "encoding": {"x": {"field": "m", "type": "quantitative", "scale": {"domain": [47, 1702], "range": [57, 927.5], "nice": false, "zero": false},
    "axis": {"orient": "bottom", "offset": -28.3, "values": [60,80,120,140,160,180,220,240,260,280,320,340,360,380,420,440,460,480,520,540,560,580,620,640,660,680,720,740,760,780,820,840,860,880,920,940,960,980,1020,1040,1060,1080,1120,1140,1160,1180,1220,1240,1260,1280,1320,1340,1360,1380,1420,1440,1460,1480,1520,1540,1560,1580,1620,1640,1660,1680], "labels": false, "domain": false, "tickSize": 4.5, "tickWidth": 1.5, "title": null}},
   "y": {"field": "v", "type": "quantitative", "scale": {"domain": [0, 100], "range": [991.7, 755], "nice": false, "zero": false},
    "axis": {"orient": "left", "offset": -57, "values": [10,20,30,40,60,70,80,90], "labels": false, "domain": false, "tickSize": 3.5, "tickWidth": 1.5, "title": null}},
   "y2": {"datum": 0}}},
 {"data": {"name": "cLead"}, "mark": {"type": "rule", "color": "#222", "strokeWidth": 1},
  "encoding": {"x": {"field": "x", "type": "quantitative", "scale": {"domain": [47, 1702], "range": [57, 927.5], "nice": false, "zero": false},
    "axis": {"orient": "bottom", "offset": -28.3, "values": [100,300,500,700,900,1100,1300,1500,1700], "labels": false, "domain": false, "tickSize": 7, "tickWidth": 1.5, "title": null}},
   "y": {"field": "y", "type": "quantitative", "scale": {"domain": [0, 100], "range": [991.7, 755], "nice": false, "zero": false},
    "axis": {"orient": "left", "offset": -57, "values": [50], "labels": false, "domain": false, "tickSize": 6, "tickWidth": 1.5, "title": null}},
   "x2": {"field": "x2"}, "y2": {"field": "y2"}}},
 {"data": {"name": "cLab"}, "mark": {"type": "text", "fontSize": 17.5, "color": "#111", "align": "center", "baseline": "middle"},
  "encoding": {"x": {"field": "x", "type": "quantitative", "scale": {"domain": [47, 1702], "range": [57, 927.5], "nice": false, "zero": false}, "axis": null},
   "y": {"field": "y", "type": "quantitative", "scale": {"domain": [0, 100], "range": [991.7, 755], "nice": false, "zero": false}, "axis": null},
   "text": {"field": "label", "type": "nominal"}}},
 {"data": {"name": "cFrag"}, "mark": {"type": "text", "font": "Lato", "fontSize": 20, "fontWeight": "bold", "color": "#111", "align": "center", "baseline": "middle"},
  "encoding": {"x": {"field": "x", "type": "quantitative", "scale": {"domain": [47, 1702], "range": [57, 927.5], "nice": false, "zero": false}, "axis": null},
   "y": {"field": "y", "type": "quantitative", "scale": {"domain": [0, 100], "range": [991.7, 755], "nice": false, "zero": false}, "axis": null},
   "text": {"field": "label", "type": "nominal"}}},
 {"data": {"name": "seqC"}, "mark": {"type": "text", "font": "Lato", "fontSize": 25, "fontWeight": "bold", "color": "#333", "align": "center", "baseline": "middle"},
  "encoding": {"x": {"field": "x", "type": "quantitative", "scale": {"domain": [47, 1702], "range": [57, 927.5], "nice": false, "zero": false}, "axis": null},
   "y": {"field": "y", "type": "quantitative", "scale": {"domain": [0, 100], "range": [991.7, 755], "nice": false, "zero": false}, "axis": null},
   "text": {"field": "label", "type": "nominal"}}},
 {"data": {"name": "headC"}, "mark": {"type": "text", "fontSize": 19, "color": "#7a7a7a", "align": "right", "baseline": "middle"},
  "encoding": {"x": {"field": "x", "type": "quantitative", "scale": {"domain": [47, 1702], "range": [57, 927.5], "nice": false, "zero": false}, "axis": null},
   "y": {"field": "y", "type": "quantitative", "scale": {"domain": [0, 100], "range": [991.7, 755], "nice": false, "zero": false}, "axis": null},
   "text": {"field": "label", "type": "nominal"}}},
 {"data": {"name": "headC2"}, "mark": {"type": "text", "fontSize": 19, "color": "#7a7a7a", "align": "left", "baseline": "middle"},
  "encoding": {"x": {"field": "x", "type": "quantitative", "scale": {"domain": [47, 1702], "range": [57, 927.5], "nice": false, "zero": false}, "axis": null},
   "y": {"field": "y", "type": "quantitative", "scale": {"domain": [0, 100], "range": [991.7, 755], "nice": false, "zero": false}, "axis": null},
   "text": {"field": "label", "type": "nominal"}}},
 {"data": {"name": "letterC"}, "mark": {"type": "text", "fontSize": 41, "fontWeight": "bold", "color": "#000", "align": "left", "baseline": "alphabetic"},
  "encoding": {"x": {"field": "x", "type": "quantitative", "scale": {"domain": [47, 1702], "range": [57, 927.5], "nice": false, "zero": false}, "axis": null},
   "y": {"field": "y", "type": "quantitative", "scale": {"domain": [0, 100], "range": [991.7, 755], "nice": false, "zero": false}, "axis": null},
   "text": {"field": "label", "type": "nominal"}}}
]}
],
"resolve": {"scale": {"x": "independent", "y": "independent"}, "axis": {"x": "independent", "y": "independent"}}
}
